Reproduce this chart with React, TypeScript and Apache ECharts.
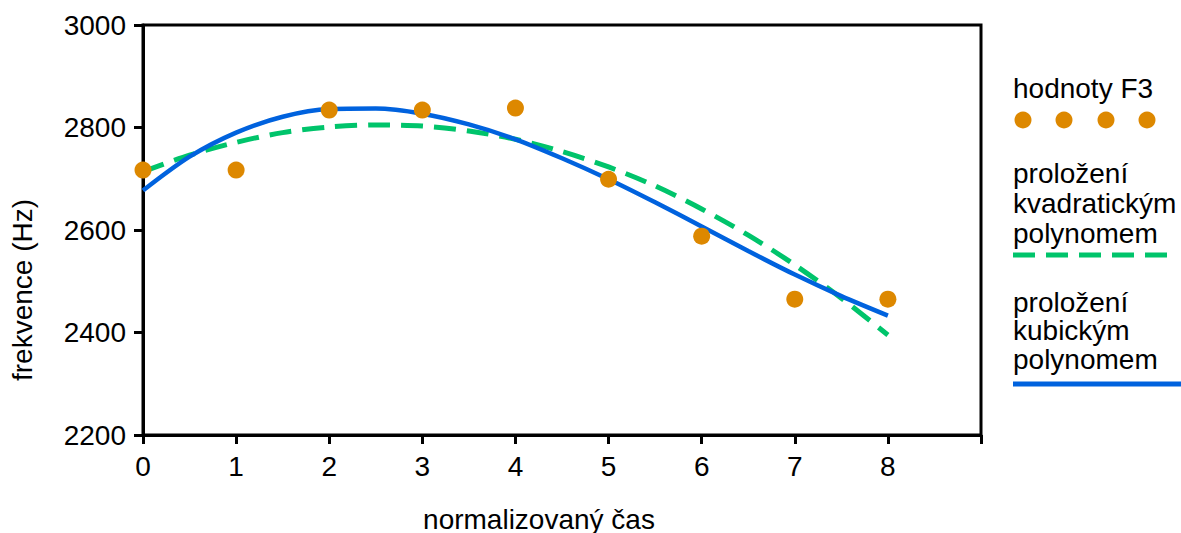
import React, { useEffect, useRef } from "react";
import * as echarts from "echarts";

const xTicks = [0, 1, 2, 3, 4, 5, 6, 7, 8, 9];
const yTicks = [2200, 2400, 2600, 2800, 3000];
const f3X = [0, 1, 2, 3, 4, 5, 6, 7, 8];
const f3Values = [2717, 2717, 2834, 2834, 2838, 2699, 2588, 2465, 2465];
const fitX = [0, 0.5, 1, 1.5, 2, 2.5, 3, 3.5, 4, 4.5, 5, 5.5, 6, 6.5, 7, 7.5, 8];
const quadValues = [2714, 2746, 2771, 2790, 2801, 2805, 2803, 2793, 2777, 2753, 2723, 2686, 2641, 2590, 2532, 2467, 2395];
const cubicValues = [2677, 2743, 2790, 2821, 2836, 2837, 2827, 2806, 2777, 2740, 2699, 2654, 2607, 2559, 2513, 2471, 2433];

const xName = "normalizovaný čas";
const yName = "frekvence (Hz)";
const legendF3 = "hodnoty F3";
const legendQuad = ["proložení", "kvadratickým", "polynomem"];
const legendCubic = ["proložení", "kubickým", "polynomem"];

const ORANGE = "#DD8800";
const GREEN = "#00C46B";
const BLUE = "#0062DE";
const FONT = "'Liberation Sans', Arial, sans-serif";
const FS = 28;

export default function App() {
  const ref = useRef<HTMLDivElement>(null);
  useEffect(() => {
    if (!ref.current) return;
    const chart = echarts.init(ref.current, null, { renderer: "svg" });
    const textStyle = { fill: "#000", font: `${FS}px ${FONT}` };
    const g: any[] = [];
    g.push({
      type: "text", x: 1013, y: 88, style: { ...textStyle, text: legendF3, textVerticalAlign: "middle" },
    });
    [1023, 1064, 1106, 1147].forEach((cx) =>
      g.push({ type: "circle", shape: { cx, cy: 120, r: 8.5 }, style: { fill: ORANGE } })
    );
    legendQuad.forEach((t, i) =>
      g.push({
        type: "text", x: 1013, y: 173 + i * 30, style: { ...textStyle, text: t, textVerticalAlign: "middle" },
      })
    );
    g.push({
      type: "line", shape: { x1: 1013, y1: 255, x2: 1172, y2: 255 },
      style: { stroke: GREEN, lineWidth: 5, lineDash: [22, 11] },
    });
    legendCubic.forEach((t, i) =>
      g.push({
        type: "text", x: 1013, y: 302 + i * 28.5, style: { ...textStyle, text: t, textVerticalAlign: "middle" },
      })
    );
    g.push({
      type: "line", shape: { x1: 1013, y1: 384, x2: 1181, y2: 384 },
      style: { stroke: BLUE, lineWidth: 5 },
    });
    g.push({
      type: "text", x: 539, y: 519, style: { ...textStyle, text: xName, textAlign: "center", textVerticalAlign: "middle" },
    });
    g.push({
      type: "text", x: 22, y: 290, rotation: Math.PI / 2,
      style: { ...textStyle, text: yName, textAlign: "center", textVerticalAlign: "middle" },
    });

    chart.setOption({
      animation: false,
      backgroundColor: "#fff",
      grid: { left: 143, right: 200, top: 25, bottom: 98, show: true, borderColor: "#000", borderWidth: 3, backgroundColor: "transparent" },
      xAxis: {
        type: "value", min: xTicks[0], max: xTicks[xTicks.length - 1], interval: 1,
        axisLine: { show: true, lineStyle: { color: "#000", width: 3 } },
        axisTick: { show: true, length: 9, lineStyle: { color: "#000", width: 3 } },
        splitLine: { show: false },
        axisLabel: {
          color: "#000", fontSize: FS, fontFamily: FONT, margin: 17,
          formatter: (v: number) => (v <= 8 ? String(v) : ""),
        },
      },
      yAxis: {
        type: "value", min: yTicks[0], max: yTicks[yTicks.length - 1], interval: 200,
        axisLine: { show: true, lineStyle: { color: "#000", width: 3 } },
        axisTick: { show: true, length: 9, lineStyle: { color: "#000", width: 3 } },
        splitLine: { show: false },
        axisLabel: { color: "#000", fontSize: FS, fontFamily: FONT, margin: 17, formatter: (v: number) => String(v) },
      },
      graphic: g,
      series: [
        {
          type: "line", data: fitX.map((x, i) => [x, quadValues[i]]), smooth: 0.3, showSymbol: false,
          lineStyle: { color: GREEN, width: 5, type: [22, 11] }, z: 2,
        },
        {
          type: "line", data: fitX.map((x, i) => [x, cubicValues[i]]), smooth: 0.3, showSymbol: false,
          lineStyle: { color: BLUE, width: 4.5 }, z: 3,
        },
        {
          type: "scatter", data: f3X.map((x, i) => [x, f3Values[i]]), symbolSize: 17,
          itemStyle: { color: ORANGE, opacity: 1 }, z: 5,
        },
      ],
    });
    return () => chart.dispose();
  }, []);
  return <div ref={ref} style={{ width: 1181, height: 533, position: "absolute", left: 0, top: 0 }} />;
}
